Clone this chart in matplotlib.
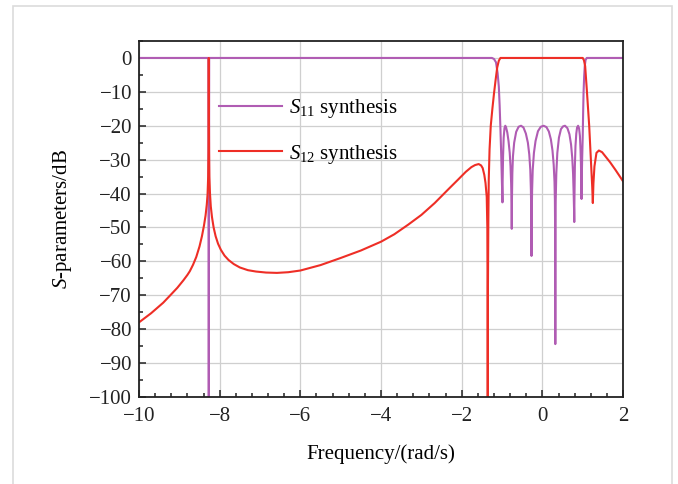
import matplotlib
matplotlib.use('Agg')
import matplotlib.pyplot as plt
from matplotlib.patches import Rectangle
from matplotlib.ticker import MultipleLocator

# frequency (rad/s) and response (dB) of the synthesized filter
s11_freq = [-10.0, -8.28, -8.27, -8.26, -1.25, -1.20, -1.15, -1.11, -1.08, -1.06, -1.04, -1.02, -1.005,
            -0.99, -0.985, -0.975, -0.96, -0.94, -0.92, -0.90, -0.87, -0.84, -0.81, -0.79, -0.775, -0.765,
            -0.76, -0.755, -0.745, -0.73, -0.70, -0.65, -0.59, -0.53, -0.47, -0.41, -0.36, -0.325, -0.30,
            -0.285, -0.275, -0.27, -0.265, -0.255, -0.24, -0.21, -0.17, -0.11, -0.04, 0.03, 0.10, 0.16,
            0.21, 0.25, 0.28, 0.30, 0.31, 0.316, 0.32, 0.324, 0.33, 0.345, 0.37, 0.41, 0.46, 0.51, 0.56,
            0.62, 0.67, 0.71, 0.74, 0.76, 0.775, 0.785, 0.79, 0.795, 0.805, 0.82, 0.84, 0.86, 0.885, 0.91,
            0.93, 0.945, 0.955, 0.963, 0.97, 0.975, 0.985, 1.0, 1.01, 1.02, 1.035, 1.05, 1.07, 1.10, 2.0]
s11_db = [0.0, 0.0, -100.0, 0.0, 0.0, -0.3, -1.3, -4.5, -8.5, -14.0, -21.0, -29.0, -36.0,
          -42.6, -36.0, -29.0, -23.5, -20.7, -20.0, -20.5, -22.0, -24.5, -28.0, -32.0, -37.0, -43.0,
          -50.4, -42.0, -34.0, -29.0, -25.0, -21.8, -20.3, -20.0, -20.5, -22.3, -25.0, -28.5, -33.0,
          -39.0, -47.0, -58.4, -47.0, -39.0, -33.0, -28.0, -24.5, -21.6, -20.3, -20.0, -20.4, -21.7,
          -24.0, -27.3, -31.5, -36.5, -42.0, -52.0, -84.4, -52.0, -42.0, -34.0, -28.0, -23.5, -21.0, -20.2, -20.0,
          -20.7, -22.5, -25.5, -29.5, -34.0, -40.0, -45.0, -48.4, -41.0, -32.0, -26.0, -22.3, -20.5, -20.0, -20.8,
          -23.0, -27.0, -31.0, -36.0, -41.6, -36.0, -30.0, -23.0, -16.0, -10.3, -5.5, -2.4, -0.6, 0.0, 0.0]

s12_freq = [-10.0, -9.7, -9.4, -9.24, -9.05, -8.9, -8.8, -8.74, -8.66, -8.58, -8.50, -8.44, -8.39,
            -8.35, -8.32, -8.30, -8.285, -8.278, -8.273, -8.27, -8.267, -8.262, -8.255, -8.24, -8.22,
            -8.19, -8.15, -8.10, -8.04, -7.97, -7.88, -7.78, -7.65, -7.5, -7.3, -7.1, -6.85,
            -6.58, -6.3, -6.0, -5.5, -5.0, -4.5, -4.0, -3.67, -3.33, -3.0, -2.67, -2.32,
            -2.1, -1.9, -1.76, -1.67, -1.58, -1.52, -1.48, -1.44, -1.41, -1.38, -1.365, -1.36, -1.355,
            -1.35, -1.34, -1.33, -1.31, -1.28, -1.24, -1.20, -1.16, -1.12, -1.08, -1.04, 1.0, 1.03, 1.06,
            1.10, 1.16, 1.21, 1.235, 1.25, 1.265, 1.29, 1.34, 1.40, 1.48, 1.56, 1.68, 1.81, 1.90, 2.0]
s12_db = [-78.0, -75.3, -72.2, -70.2, -67.8, -65.6, -64.0, -62.9, -61.0, -58.7, -55.6, -52.6, -49.5,
          -46.5, -43.3, -40.2, -35.0, -28.0, -15.0, 0.0, -15.0, -28.0, -35.0, -40.0, -43.8,
          -47.0, -50.0, -52.6, -54.8, -56.6, -58.3, -59.6, -60.8, -61.8, -62.6, -63.0, -63.3,
          -63.4, -63.2, -62.7, -61.1, -59.0, -56.8, -54.2, -52.0, -49.2, -46.3, -42.8, -38.6,
          -36.0, -33.6, -32.2, -31.6, -31.3, -31.7, -32.5, -34.5, -36.9, -41.0, -50.0, -68.0, -100.0,
          -68.0, -48.0, -36.0, -27.0, -20.0, -15.0, -10.5, -6.5, -2.8, -0.8, 0.0, 0.0, -0.7, -2.4,
          -9.2, -20.0, -32.0, -38.0, -42.8, -37.0, -32.0, -28.0, -27.3, -27.8, -29.0, -30.8, -33.0, -34.6, -36.4]

labels = [r'$S_{11}$ synthesis', r'$S_{12}$ synthesis']

plt.rcParams['font.family'] = ['Liberation Serif', 'DejaVu Serif']
plt.rcParams['mathtext.fontset'] = 'custom'
plt.rcParams['mathtext.rm'] = 'Liberation Serif'
plt.rcParams['mathtext.it'] = 'Liberation Serif:italic'
plt.rcParams['font.size'] = 15

fig = plt.figure(figsize=(6.78, 4.84), dpi=100)
fig.patches.append(Rectangle((0.0192, -0.05), 0.972, 1.0376, transform=fig.transFigure,
                             fill=False, edgecolor='#dcdcdc', linewidth=1.2))
ax = fig.add_axes([0.205, 0.1798, 0.714, 0.7355])

l1, = ax.plot(s11_freq, s11_db, color='#b05cb3', lw=1.5)
l2, = ax.plot(s12_freq, s12_db, color='#ee2e26', lw=1.5)

ax.set_xlim(-10, 2)
ax.set_ylim(-100, 5)
ax.xaxis.set_major_locator(MultipleLocator(2))
ax.xaxis.set_minor_locator(MultipleLocator(0.4))
ax.yaxis.set_major_locator(MultipleLocator(10))
ax.yaxis.set_minor_locator(MultipleLocator(5))
ax.grid(True, which='major', color='#cfcfcf', lw=0.9)
ax.set_axisbelow(True)
ax.tick_params(which='both', direction='in', width=1.1, colors='#222222')
ax.tick_params(which='major', length=5)
ax.tick_params(which='minor', length=3)
ax.tick_params(axis='x', pad=7)
ax.tick_params(axis='y', pad=5)
for sp in ax.spines.values():
    sp.set_linewidth(1.3)
    sp.set_color('#222222')

ax.set_xlabel('Frequency/(rad/s)')
ax.set_ylabel(r'$S$-parameters/dB')
ax.xaxis.set_label_coords(0.5, -0.132)
ax.yaxis.set_label_coords(-0.135, 0.5)

ax.legend([l1, l2], labels, loc='upper left', bbox_to_anchor=(0.166, 0.843), frameon=False,
          borderpad=0, borderaxespad=0, handlelength=3.0, handletextpad=0.32, labelspacing=1.09)

fig.savefig('out.png', dpi=100, facecolor='white')
